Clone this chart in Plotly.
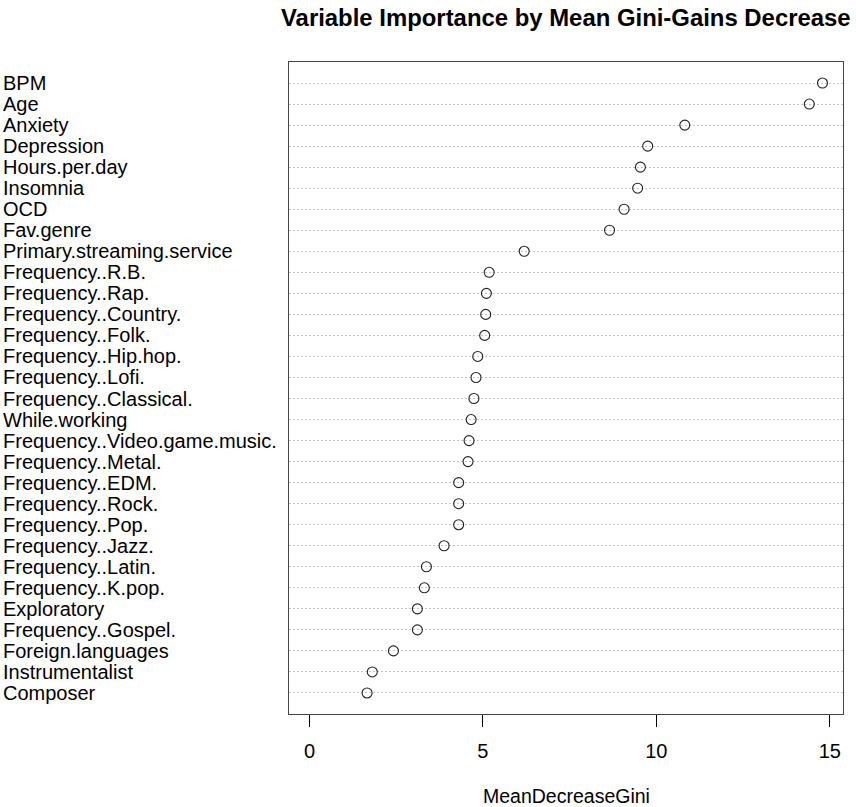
import plotly.graph_objects as go

variables = [
    "BPM", "Age", "Anxiety", "Depression", "Hours.per.day", "Insomnia", "OCD",
    "Fav.genre", "Primary.streaming.service", "Frequency..R.B.", "Frequency..Rap.",
    "Frequency..Country.", "Frequency..Folk.", "Frequency..Hip.hop.", "Frequency..Lofi.",
    "Frequency..Classical.", "While.working", "Frequency..Video.game.music.",
    "Frequency..Metal.", "Frequency..EDM.", "Frequency..Rock.", "Frequency..Pop.",
    "Frequency..Jazz.", "Frequency..Latin.", "Frequency..K.pop.", "Exploratory",
    "Frequency..Gospel.", "Foreign.languages", "Instrumentalist", "Composer",
]
mean_decrease_gini = [
    14.79, 14.41, 10.82, 9.75, 9.54, 9.46, 9.07,
    8.65, 6.19, 5.18, 5.10,
    5.08, 5.05, 4.85, 4.80,
    4.74, 4.66, 4.60,
    4.57, 4.30, 4.30, 4.30,
    3.88, 3.37, 3.31, 3.11,
    3.11, 2.42, 1.81, 1.66,
]
x_ticks = [0, 5, 10, 15]

W, H = 856, 807
L, R, T, B = 289, 13, 62, 93
pw = W - L - R
ph = H - T - B

fig = go.Figure()
fig.add_trace(go.Scatter(
    x=mean_decrease_gini, y=variables, mode="markers",
    marker=dict(symbol="circle-open", size=10, color="#222222", line=dict(width=1.1)),
    showlegend=False, hoverinfo="x+y",
))

font = "Liberation Sans, Arial, sans-serif"
n = len(variables)
xmax = max(mean_decrease_gini)

annotations = []
for v in variables:
    annotations.append(dict(
        text=v, xref="paper", x=(1 - L) / pw, xanchor="left",
        yref="y", y=v, yanchor="middle", showarrow=False,
        font=dict(family=font, size=20, color="#000000"),
    ))
annotations.append(dict(
    text="<b>Variable Importance by Mean Gini-Gains Decrease</b>",
    xref="paper", x=0.5, xanchor="center", yref="paper", y=1 + (T - 17) / ph,
    yanchor="middle", showarrow=False,
    font=dict(family=font, size=23.9, color="#000000"),
))
annotations.append(dict(
    text="MeanDecreaseGini", xref="paper", x=0.5, xanchor="center",
    yref="paper", y=-(796 - (T + ph)) / ph, yanchor="middle", showarrow=False,
    font=dict(family=font, size=19.5, color="#000000"),
))

fig.update_layout(
    width=W, height=H,
    margin=dict(l=L, r=R, t=T, b=B, pad=0),
    paper_bgcolor="white", plot_bgcolor="white",
    annotations=annotations,
    xaxis=dict(
        range=[-0.04 * xmax, 1.04 * xmax],
        tickvals=x_ticks, ticktext=[str(t) for t in x_ticks],
        ticks="outside", ticklen=12, tickwidth=1, tickcolor="#000000",
        showgrid=False, zeroline=False,
        showline=True, linecolor="#444444", linewidth=1, mirror=True,
        tickfont=dict(family=font, size=20, color="#000000"),
        ticklabelstandoff=7,
    ),
    yaxis=dict(
        categoryorder="array", categoryarray=variables,
        range=[n, -1],
        showticklabels=False, ticks="",
        showgrid=True, gridcolor="#c4c4c4", griddash="2px,2px", gridwidth=1,
        zeroline=False,
        showline=True, linecolor="#444444", linewidth=1, mirror=True,
    ),
)

fig.write_html("out.html")
